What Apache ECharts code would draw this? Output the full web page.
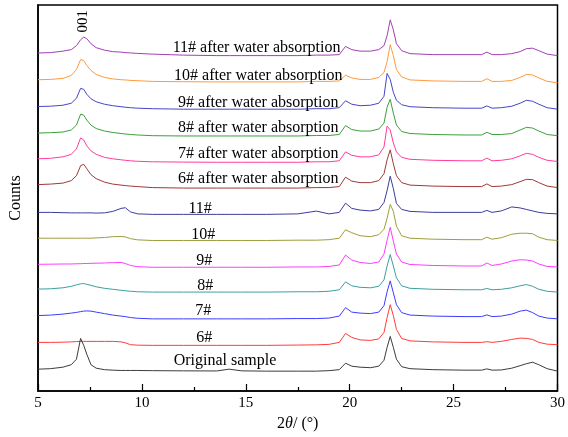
<!DOCTYPE html>
<html>
<head>
<meta charset="utf-8">
<script src="https://cdn.jsdelivr.net/npm/echarts@6/dist/echarts.min.js"></script>
<style>
html,body{margin:0;padding:0;background:#fff;}
#chart{width:568px;height:437px;}
</style>
</head>
<body>
<div id="chart"></div>
<script>
// 2-theta sample positions (degrees)
const X = [5, 5.6, 6.2, 6.6, 6.85, 7.05, 7.2, 7.35, 7.55, 7.8, 8.2, 8.6, 9.0, 9.2, 9.45, 9.8, 10.5, 12, 13.6, 14.2, 14.8, 16, 17.5, 18.4, 19, 19.5, 19.8, 20.1, 20.5, 21, 21.4, 21.65, 21.8, 21.95, 22.1, 22.25, 22.5, 22.9, 24, 25.5, 26.35, 26.6, 26.85, 27.3, 27.8, 28.2, 28.5, 28.8, 29.1, 29.5, 30];

// stacked intensities (counts, offset)
const S11A = [340.7,341,342.5,344,348,354,356.7,355,350,346,343.5,342,341.5,341,340.7,340.2,339.5,338.5,338,338,338,338,338,338.5,338.5,339,347.3,344,342.5,342.5,344,348,358,374,364,350,343,340,339,339,339,341.5,339,339,340,342,345,345.5,343,339.5,338];
const S10A = [313.7,314,315,318,324,334,333,328,323,319,316,314.5,313.7,313.5,313,312.7,312,311.7,311.5,311.5,311.5,311.5,311.5,312,312,312.5,318.3,315.5,314,314,316,321,332,349,338,324,316.5,313.5,312.5,312,312,314.7,312,312,313,316,319,318.5,315.5,312,310.7];
const S9A = [286.7,287,288,290,295,305,304,299,294.5,291.5,289,287.5,286.5,286,285.5,285,284.5,284,284,284,284,284,284,284.5,284.5,285.5,292.5,289,287.5,288,290,297,320,314,301,293,288.5,286.5,285.5,285,285,287.3,285,285.5,287,290,293,292,289,285.5,284];
const S8A = [260,260.3,261,263,268,279,278,273,268,264.5,262,260.5,259.5,259,258.5,258,257.3,257,257,257,257,257,257,257.5,257.5,258.5,267.5,263.5,262,262,264,270,286,294,280,268,261.5,259.5,258.5,258,258,260.7,258.5,258.5,259.5,263,265.7,265,262,258.5,257.3];
const S7A = [234,234.5,236,238.5,244,255,253,247,242,238.5,235.5,234,233,232.5,232,231.5,231,230.7,230.5,230.5,230.5,230.5,230.5,231,231,232,241,237.5,236,236,238,246,267,263,250,241,235.5,233.5,232.5,232,232,234.7,232,232.5,234,237,239.5,238.5,235.5,232.5,231.3];
const S6A = [208,208.5,209.5,212,217,227,228.5,224,218,214,210.5,208.5,207.5,207,206.5,206,205,204.5,204.5,204.5,204.5,204.5,204.5,205,205,206,215.5,211.5,210,210,212,219,233,243,229,217,210,207.5,206.5,206,206,208.7,206,206.5,208,211,213.3,213,210,206.5,205];
const S11 = [180,180,179.7,179.5,179.5,179.5,179.5,179.5,179.5,179.3,179.5,181,184,184.7,180.5,178.5,178,178,178,178,178,178,178.5,181.3,178.5,180,189.3,184,182.3,181.5,183,190,202,216.5,204,189,183,181,180,180,180,182,180,181.5,185.5,184.5,183,181.5,180,179,178.5];
const S10 = [154,154,154,154,154,154,154,154,154,154.3,154.7,155.5,155.7,155.3,153.5,152.3,151.7,151.7,151.7,151.7,151.7,151.7,152,152,152.5,154,162.5,159.5,156.5,155.5,157.5,163,174,188,181,166,156.5,154,153,152.5,152.5,155,153,154.5,158,159,159,158.5,155,152.5,151.7];
const S9 = [127.7,127.8,128,128,128.2,128.3,128.5,128.5,128.7,128.8,129,129.3,129.5,128.5,126.5,125.3,124.7,124.7,124.7,124.7,124.7,124.7,125,125,125.5,127,137,132,129.5,128.5,130,138,152,165,151,138,130,127.5,126.5,126,126,129,126.5,128,131,132.3,132,131,128,125.5,125];
const S8 = [102.7,103,104,105.5,107,108,108.3,107.5,106.5,105,103.5,102.5,101.5,101,100.5,100,99.7,99.7,99.7,99.7,99.7,99.7,100,100,100.5,102,110,106,104.5,104,105.5,112,126,137.5,126,114,106,103.5,102.5,102,102,103.3,102,102.5,104,106,107.3,105.5,102.5,100.5,99.7];
const S7 = [76,76.5,77.5,78.5,79.2,80,80.5,80.7,80.5,79.5,78,76.5,75.5,75,74,73.3,72.7,72.7,72.7,72.7,72.7,72.7,73,73,73.5,75.5,84,79.5,78.5,78,79.5,86,100,111,99,87,79,76.5,75.5,75,75,76.7,75,75.5,77.5,80.5,81.5,79,75.5,73.5,72.7];
const S6 = [49,49,49.2,49.5,49.8,50,50,50,50,50,50,50,49.5,48.5,46.7,46.2,46,46,46,46,46,46,46.3,46.5,47,49,58,54,51.5,51,52.5,59,74,87,76,62,53,50.5,49.5,49,49,49.7,49,50,52,53.3,53,52,49,47.2,46.7];
const SORIG = [22,22.5,24,26.5,32,53,46,37,26.5,23,21.5,21,20.7,20.7,20.7,20.7,20.5,20.3,20.2,22,20.3,20,20,20,20.5,21.5,28,25,24,23.5,25,31,44,55,44,32,24.5,22.5,21.5,21,21,22.3,21,21.2,23,25.5,27.5,29,26.5,22.5,20];

const NAMES = ['11# after water absorption','10# after water absorption','9# after water absorption','8# after water absorption','7# after water absorption','6# after water absorption','11#','10#','9#','8#','7#','6#','Original sample'];
const X_TICKS = [5, 10, 15, 20, 25, 30];

// styling / placement (not data)
const SERIES = [S11A,S10A,S9A,S8A,S7A,S6A,S11,S10,S9,S8,S7,S6,SORIG];
const COLORS = ['#a040b4','#ff9a3c','#4646c8','#3ca03c','#ff3c9e','#a03838','#3c3c9e','#9e9e3c','#ff3cff','#3ca0a0','#3c3cff','#ff3c3c','#3c3c3c'];
const LABEL_AT = [[15.52,346],[15.6,318],[15.6,290.7],[15.6,265.7],[15.6,239],[15.6,214],[12.8,184],[12.95,157.3],[13.0,131.3],[13.05,106.3],[12.95,81.3],[13.0,53.3],[14.0,30.7]];

const FONT = 'Liberation Serif, Times New Roman, serif';

const series = SERIES.map((arr, k) => ({
  type: 'line',
  name: NAMES[k],
  data: X.map((x, i) => [x, arr[i]]),
  showSymbol: false,
  symbol: 'none',
  lineStyle: { color: COLORS[k], width: 1 },
  itemStyle: { color: COLORS[k] },
  animation: false,
  z: 2,
  markPoint: {
    symbol: 'rect', symbolSize: [1,1],
    itemStyle: { color: 'rgba(0,0,0,0)' },
    label: { show: true, position: 'inside', formatter: NAMES[k], color: '#000', fontFamily: FONT, fontSize: 16 },
    data: [{ coord: LABEL_AT[k] }]
  }
}));

series.push({
  type: 'line', data: [], animation: false,
  markPoint: {
    symbol: 'rect', symbolSize: [1,1],
    itemStyle: { color: 'rgba(0,0,0,0)' },
    label: { show: true, position: 'inside', formatter: '001', color: '#000', fontFamily: FONT, fontSize: 15, rotate: 90 },
    data: [{ coord: [7.15, 372.5] }]
  }
});

const chart = echarts.init(document.getElementById('chart'));
chart.setOption({
  backgroundColor: '#fff',
  animation: false,
  grid: { left: 36, right: 9, top: 5, bottom: 43, show: true, borderColor: '#000', borderWidth: 1.5, backgroundColor: 'rgba(0,0,0,0)' },
  xAxis: {
    type: 'value', min: 5, max: 30, interval: 5,
    name: '2{i|θ}/ (°)', nameLocation: 'middle', nameGap: 25,
    nameTextStyle: { fontFamily: FONT, fontSize: 16, color: '#000', rich: { i: { fontFamily: FONT, fontSize: 16, fontStyle: 'italic', color: '#000' } } },
    axisLine: { lineStyle: { color: '#000', width: 1.5 } },
    axisTick: { inside: true, length: 7, lineStyle: { color: '#000', width: 1.2 } },
    minorTick: { show: true, splitNumber: 2, length: 4, lineStyle: { color: '#000', width: 1.2 } },
    splitLine: { show: false },
    axisLabel: { color: '#000', fontFamily: FONT, fontSize: 15, margin: 5,
      formatter: v => X_TICKS.includes(v) ? String(v) : '' }
  },
  yAxis: {
    type: 'value', min: 0, max: 389,
    name: 'Counts', nameLocation: 'middle', nameGap: 14,
    nameTextStyle: { fontFamily: FONT, fontSize: 16, color: '#000' },
    axisLine: { show: true, lineStyle: { color: '#000', width: 1.5 } },
    axisTick: { show: false },
    axisLabel: { show: false },
    splitLine: { show: false }
  },
  series: series
});
</script>
</body>
</html>
